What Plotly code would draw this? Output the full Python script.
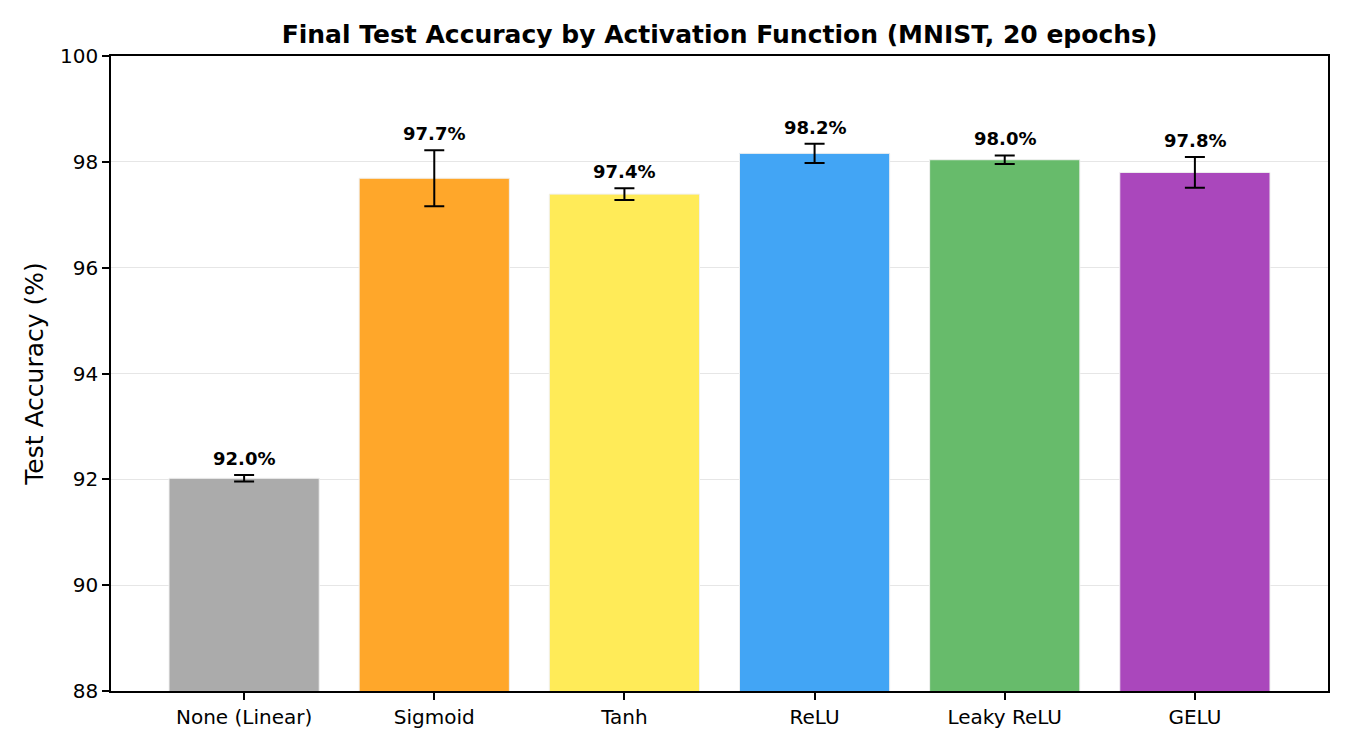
import plotly.graph_objects as go

categories = ["None (Linear)", "Sigmoid", "Tanh", "ReLU", "Leaky ReLU", "GELU"]
accuracy = [92.02, 97.69, 97.39, 98.16, 98.04, 97.80]
errors = [0.06, 0.53, 0.11, 0.18, 0.08, 0.29]
labels = ["92.0%", "97.7%", "97.4%", "98.2%", "98.0%", "97.8%"]
colors = ["#ABABAB", "#FFA72A", "#FFEB58", "#42A5F5", "#67BB6B", "#AA47BC"]

fig = go.Figure()
fig.add_trace(go.Bar(
    x=categories, y=accuracy, width=0.79,
    marker=dict(color=colors, line=dict(color="#f0f0f0", width=1)),
    error_y=dict(type="data", array=errors, visible=True, color="black",
                 thickness=2, width=10),
    showlegend=False,
))

for c, v, e, t in zip(categories, accuracy, errors, labels):
    fig.add_annotation(x=c, y=v + e, text=f"<b>{t}</b>", showarrow=False,
                       yanchor="bottom", yshift=4,
                       font=dict(family="DejaVu Sans", size=18, color="black"))

fig.update_layout(
    width=1350, height=750,
    margin=dict(l=103, r=30, t=48, b=67),
    paper_bgcolor="white", plot_bgcolor="white",
    font=dict(family="DejaVu Sans", color="black"),
    title=dict(text="<b>Final Test Accuracy by Activation Function (MNIST, 20 epochs)</b>",
               x=0.5, xref="paper", xanchor="center", y=1, yref="paper", yanchor="bottom",
               pad=dict(b=13), font=dict(size=25)),
    bargap=0.2,
)
fig.update_xaxes(range=[-0.7, 5.7], showline=True, linecolor="black", linewidth=1.5,
                 mirror=True, ticks="outside", ticklen=7, tickwidth=1.5, tickcolor="black",
                 tickfont=dict(size=20), showgrid=False)
fig.update_yaxes(range=[88, 100], dtick=2, showline=True, linecolor="black", linewidth=1.5,
                 mirror=True, ticks="outside", ticklen=7, tickwidth=1.5, tickcolor="black",
                 tickfont=dict(size=20), showgrid=True, gridcolor="#e6e6e6", gridwidth=1,
                 zeroline=False,
                 title=dict(text="Test Accuracy (%)", font=dict(size=25), standoff=9))

fig.write_html("out.html")
